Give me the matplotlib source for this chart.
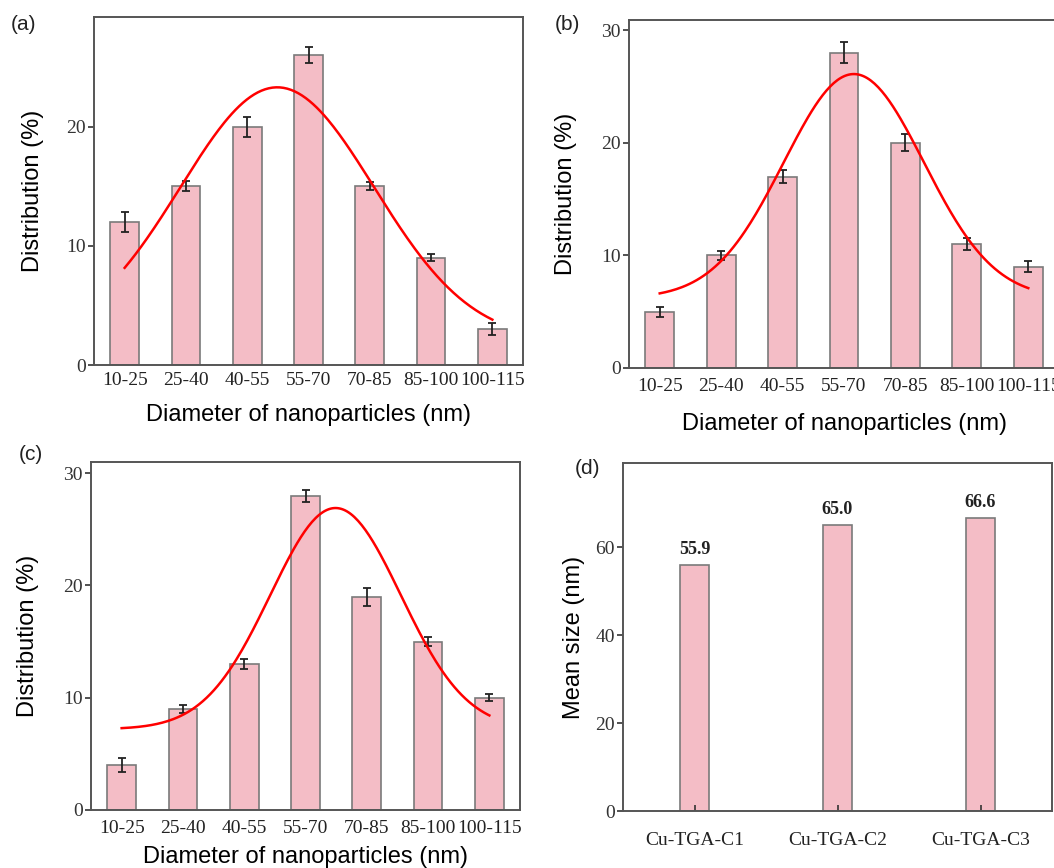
import numpy as np
import matplotlib
matplotlib.use('Agg')
from matplotlib import pyplot as plt

plt.rcParams.update({'font.family': 'Liberation Serif', 'font.size': 14})

size_bins = ['10-25', '25-40', '40-55', '55-70', '70-85', '85-100', '100-115']

dist_a = [12, 15, 20, 26, 15, 9, 3]
err_a = [0.8, 0.4, 0.85, 0.7, 0.35, 0.3, 0.5]
dist_b = [5, 10, 17, 28, 20, 11, 9]
err_b = [0.45, 0.4, 0.6, 0.95, 0.75, 0.5, 0.5]
dist_c = [4, 9, 13, 28, 19, 15, 10]
err_c = [0.65, 0.35, 0.45, 0.55, 0.8, 0.4, 0.3]

# gaussian fit parameters (x in bin index units)
fit_center = [2.49, 3.16, 3.49]
fit_width = [1.58, 1.14, 1.065]
fit_amp = [21.3, 19.9, 19.7]
fit_base = [2.0, 6.2, 7.2]

samples = ['Cu-TGA-C1', 'Cu-TGA-C2', 'Cu-TGA-C3']
mean_size = [55.9, 65.0, 66.6]

W, H = 1054, 868
bar_color = '#F4BDC6'
edge_color = '#7a7a7a'
spine_color = '#555555'
sans = 'Liberation Sans'

fig = plt.figure(figsize=(W / 100, H / 100), dpi=100)


def px_axes(left, top, right, bottom):
    return fig.add_axes([left / W, 1 - bottom / H, (right - left) / W, (bottom - top) / H])


def style_axes(ax):
    for s in ax.spines.values():
        s.set_color(spine_color)
        s.set_linewidth(1.4)
    ax.tick_params(axis='y', direction='out', length=4, width=1.2, color='#333333',
                   labelcolor='#333333', pad=2)
    ax.tick_params(axis='x', direction='in', length=4, width=1.2, color='#333333',
                   labelcolor='#222222')


def dist_panel(ax, vals, errs, k, ytop, xpad):
    x = np.arange(len(size_bins))
    ax.bar(x, vals, width=0.47, color=bar_color, edgecolor=edge_color, linewidth=1.2, zorder=2)
    ax.errorbar(x, vals, yerr=errs, fmt='none', ecolor='#222222', elinewidth=1.3,
                capsize=3, capthick=1.3, zorder=3)
    xs = np.linspace(0, len(size_bins) - 1, 200)
    ys = fit_base[k] + fit_amp[k] * np.exp(-(xs - fit_center[k]) ** 2 / (2 * fit_width[k] ** 2))
    ax.plot(xs, ys, color='red', linewidth=1.8, zorder=4)
    ax.set_yticks([0, 10, 20, 30])
    ax.set_xticks(x)
    ax.set_xticklabels(size_bins)
    ax.set_xlim(-0.5, 6.5)
    ax.set_ylim(0, ytop)
    style_axes(ax)
    ax.tick_params(axis='x', pad=xpad)
    ax.set_ylabel('Distribution (%)', family=sans, fontsize=17)
    ax.set_xlabel('Diameter of nanoparticles (nm)', family=sans, fontsize=17)


ax_a = px_axes(94, 17, 523, 365)
dist_panel(ax_a, dist_a, err_a, 0, 29.2, 5)
ax_a.yaxis.set_label_coords((44 - 94) / 429, 0.5)
ax_a.xaxis.set_label_coords(0.5, -(404 - 365) / 348)

ax_b = px_axes(629, 20, 1059, 368)
dist_panel(ax_b, dist_b, err_b, 1, 30.9, 7)
ax_b.yaxis.set_label_coords((577 - 629) / 430, 0.5)
ax_b.xaxis.set_label_coords(0.5, -(413 - 368) / 348)

ax_c = px_axes(91, 462, 520, 810)
dist_panel(ax_c, dist_c, err_c, 2, 31, 7)
ax_c.yaxis.set_label_coords((39 - 91) / 429, 0.5)
ax_c.xaxis.set_label_coords(0.5, -(846 - 810) / 348)

ax_d = px_axes(623, 463, 1052, 811)
xd = np.arange(len(samples))
ax_d.bar(xd, mean_size, width=0.2, color=bar_color, edgecolor=edge_color, linewidth=1.2)
for i, v in enumerate(mean_size):
    ax_d.annotate(f'{v:.1f}', (xd[i], v), xytext=(0, 5), textcoords='offset points',
                  ha='center', va='bottom', fontsize=13, fontweight='bold', color='#222222')
ax_d.set_yticks([0, 20, 40, 60])
ax_d.set_xticks(xd)
ax_d.set_xticklabels(samples)
ax_d.set_xlim(-0.5, 2.5)
ax_d.set_ylim(0, 79.1)
style_axes(ax_d)
ax_d.tick_params(axis='x', pad=15)
ax_d.set_ylabel('Mean size (nm)', family=sans, fontsize=17)
ax_d.yaxis.set_label_coords((585 - 623) / 429, 0.5)

for lbl, (cx, cy) in zip(['(a)', '(b)', '(c)', '(d)'],
                         [(23, 25), (567, 25), (31, 455), (587, 468)]):
    fig.text(cx / W, 1 - cy / H, lbl, family=sans, fontsize=15, ha='center', va='center',
             color='#222222')

plt.savefig('out.png', dpi=100)
